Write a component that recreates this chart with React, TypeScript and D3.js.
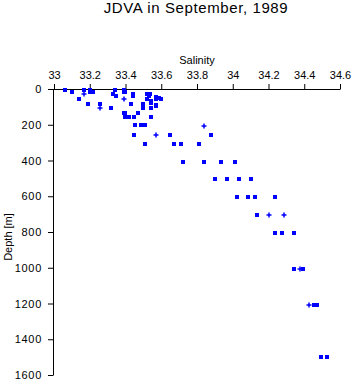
import React, { useRef, useEffect } from "react";
import * as d3 from "d3";

// salinity / depth, square markers
const squareSalinity = [
  33.06, 33.17, 33.2, 33.34, 33.39,
  33.1, 33.2, 33.22, 33.39, 33.4,
  33.33, 33.44, 33.52, 33.535,
  33.345, 33.44, 33.53,
  33.57, 33.59,
  33.14, 33.52, 33.57, 33.6,
  33.54, 33.54,
  33.19, 33.26, 33.43, 33.5,
  33.57, 33.57,
  33.32, 33.5, 33.54,
  33.39, 33.4, 33.47,
  33.4, 33.42, 33.45, 33.54,
  33.455, 33.485, 33.51,
  33.45, 33.65, 33.88,
  33.51, 33.67, 33.71, 33.81,
  33.72, 33.84, 33.935, 34.01,
  33.9, 33.97, 34.035, 34.1,
  34.025, 34.085, 34.125, 34.235,
  34.135,
  34.235, 34.275, 34.345,
  34.345, 34.395,
  34.455, 34.47,
  34.495, 34.525,
];
const squareDepth = [
  0, 0, 0, 0, 0,
  10, 10, 10, 10, 10,
  25, 25, 25, 25,
  33, 33, 33,
  40, 45,
  52, 52, 52, 52,
  63, 70,
  78, 78, 78, 78,
  86, 90,
  102, 102, 102,
  127, 127, 127,
  153, 153, 153, 153,
  198, 198, 198,
  253, 253, 253,
  302, 302, 302, 302,
  400, 400, 400, 400,
  500, 500, 500, 500,
  600, 600, 600, 600,
  700,
  800, 800, 800,
  1000, 1000,
  1200, 1200,
  1495, 1495,
];

// plus markers
const plusSalinity = [33.17, 33.39, 33.26, 33.84, 33.57, 34.205, 34.285, 34.375, 34.425];
const plusDepth = [25, 52, 102, 202, 253, 700, 700, 1000, 1200];

const xTicks = [33, 33.2, 33.4, 33.6, 33.8, 34, 34.2, 34.4, 34.6];
const yTicks = [0, 200, 400, 600, 800, 1000, 1200, 1400, 1600];

const W = 353;
const H = 384;
const font = "'Liberation Sans', Arial, sans-serif";

const App: React.FC = () => {
  const ref = useRef<SVGSVGElement | null>(null);

  useEffect(() => {
    if (!ref.current) return;
    const svg = d3.select(ref.current);
    svg.selectAll("*").remove();

    const x = d3.scaleLinear().domain([33, 34.6]).range([54, 340]);
    const y = d3.scaleLinear().domain([0, 1600]).range([89, 375]);

    svg.append("text")
      .attr("x", 196).attr("y", 13)
      .attr("text-anchor", "middle")
      .style("font-family", font).style("font-size", "15px")
      .style("letter-spacing", "0.6px")
      .text("JDVA in September, 1989");

    svg.append("text")
      .attr("x", 197).attr("y", 64)
      .attr("text-anchor", "middle")
      .style("font-family", font).style("font-size", "11px")
      .text("Salinity");

    svg.append("text")
      .attr("transform", "translate(12,237) rotate(-90)")
      .attr("text-anchor", "middle")
      .style("font-family", font).style("font-size", "11px")
      .text("Depth [m]");

    const xAxis = d3.axisTop(x)
      .tickValues(xTicks)
      .tickSize(5)
      .tickSizeOuter(0)
      .tickPadding(5)
      .tickFormat((d) => String(d));
    const gx = svg.append("g").attr("transform", `translate(0,89)`).call(xAxis);
    gx.selectAll("text").style("font-family", font).style("font-size", "11px").style("fill", "black");

    const yAxis = d3.axisLeft(y)
      .tickValues(yTicks)
      .tickSize(5)
      .tickSizeOuter(0)
      .tickPadding(6)
      .tickFormat(d3.format("d"));
    const gy = svg.append("g").attr("transform", `translate(53,0)`).call(yAxis);
    gy.selectAll("text").style("font-family", font).style("font-size", "11px")
      .style("letter-spacing", "0.7px").style("fill", "black");

    // make the x domain line start at the y axis
    gx.select(".domain").attr("d", `M53,0.5H${x(34.6) + 0.5}`);

    const sq = squareSalinity.map((s, i) => ({ s, d: squareDepth[i] }));
    svg.append("g")
      .selectAll("rect")
      .data(sq)
      .enter()
      .append("rect")
      .attr("x", (d) => Math.round(x(d.s)) - 2)
      .attr("y", (d) => Math.round(y(d.d)) - 1)
      .attr("width", 4)
      .attr("height", 4)
      .attr("fill", "#0000ff");

    const pl = plusSalinity.map((s, i) => ({ s, d: plusDepth[i] }));
    svg.append("g")
      .selectAll("path")
      .data(pl)
      .enter()
      .append("path")
      .attr("d", (d) => {
        const cx = Math.round(x(d.s));
        const cy = Math.round(y(d.d)) + 1;
        return `M${cx - 2.5},${cy}H${cx + 2.5}M${cx},${cy - 2.5}V${cy + 2.5}`;
      })
      .attr("stroke", "#0000ff")
      .attr("stroke-width", 1.5)
      .attr("fill", "none");
  }, []);

  return (
    <svg
      ref={ref}
      width={W}
      height={H}
      viewBox={`0 0 ${W} ${H}`}
      style={{ position: "absolute", left: 0, top: 0, background: "white" }}
    />
  );
};

export default App;
